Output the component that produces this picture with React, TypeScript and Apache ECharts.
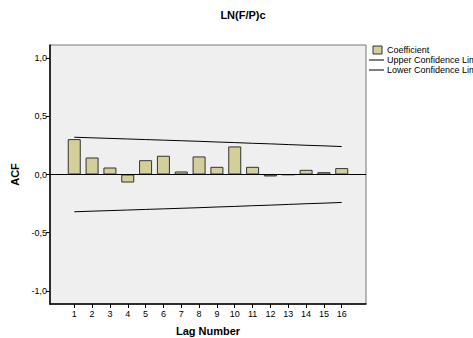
import React, { useEffect, useRef } from "react";
import * as echarts from "echarts";

const lags = [1, 2, 3, 4, 5, 6, 7, 8, 9, 10, 11, 12, 13, 14, 15, 16];
const coefficient = [0.304, 0.146, 0.06, -0.069, 0.123, 0.161, 0.026, 0.155, 0.066, 0.241, 0.066, -0.017, -0.003, 0.04, 0.02, 0.055];
const upperLimit = [0.32, 0.315, 0.31, 0.305, 0.3, 0.295, 0.29, 0.285, 0.279, 0.274, 0.268, 0.263, 0.257, 0.251, 0.246, 0.24];
const lowerLimit = [-0.32, -0.315, -0.31, -0.305, -0.3, -0.295, -0.29, -0.285, -0.279, -0.274, -0.268, -0.263, -0.257, -0.251, -0.246, -0.24];
const yTicks = [-1, -0.5, 0, 0.5, 1];

const FONT = "Liberation Sans, Arial, sans-serif";

export default function App() {
  const ref = useRef<HTMLDivElement>(null);
  useEffect(() => {
    if (!ref.current) return;
    const chart = echarts.init(ref.current, null, { renderer: "svg" });
    chart.setOption({
      animation: false,
      backgroundColor: "#ffffff",
      textStyle: { fontFamily: FONT },
      title: {
        text: "LN(F/P)c",
        left: 238,
        top: 4,
        textAlign: "center",
        textStyle: { fontSize: 11, fontWeight: "bold", color: "#000", fontFamily: FONT },
      },
      grid: {
        left: 50,
        right: 107,
        top: 45,
        bottom: 34,
        outerBoundsMode: "none",
        containLabel: false,
        show: true,
        backgroundColor: "#efefef",
        borderColor: "#777",
        borderWidth: 1,
      },
      xAxis: {
        type: "value",
        min: -0.36,
        max: 17.36,
        name: "Lag Number",
        nameLocation: "middle",
        nameGap: 21,
        nameTextStyle: { fontSize: 11, fontWeight: "bold", color: "#000", fontFamily: FONT },
        axisLine: { show: true, onZero: false, lineStyle: { color: "#000", width: 1.5 } },
        axisTick: { show: true, customValues: lags, length: 4, lineStyle: { color: "#000" } },
        axisLabel: {
          customValues: lags,
          fontSize: 9,
          color: "#000",
          margin: 5,
          formatter: (v: number) => String(v),
        },
        splitLine: { show: false },
      },
      yAxis: {
        type: "value",
        min: -1.112,
        max: 1.112,
        name: "ACF",
        nameLocation: "middle",
        nameGap: 20,
        nameRotate: 90,
        nameTextStyle: { fontSize: 11, fontWeight: "bold", color: "#000", fontFamily: FONT },
        axisLine: { show: true, onZero: false, lineStyle: { color: "#000", width: 1.5 } },
        axisTick: { show: true, customValues: yTicks, length: 4, lineStyle: { color: "#000" } },
        axisLabel: {
          customValues: yTicks,
          fontSize: 9,
          color: "#000",
          margin: 3,
          formatter: (v: number) => v.toFixed(1).replace(".", ","),
        },
        splitLine: { show: false },
      },
      series: [
        {
          name: "Coefficient",
          type: "bar",
          barWidth: 13,
          data: lags.map((l, i) => [l, coefficient[i]]),
          itemStyle: { color: "#d4cf98", borderColor: "#333", borderWidth: 1 },
          markLine: {
            silent: true,
            symbol: "none",
            label: { show: false },
            lineStyle: { color: "#000", width: 1, type: "solid" },
            data: [{ yAxis: 0 }],
          },
        },
        {
          name: "Upper Confidence Limit",
          type: "line",
          symbol: "none",
          data: lags.map((l, i) => [l, upperLimit[i]]),
          lineStyle: { color: "#000", width: 1 },
        },
        {
          name: "Lower Confidence Limit",
          type: "line",
          symbol: "none",
          data: lags.map((l, i) => [l, lowerLimit[i]]),
          lineStyle: { color: "#000", width: 1 },
        },
      ],
      graphic: [
        { type: "rect", shape: { x: 373, y: 46, width: 9, height: 8 }, style: { fill: "#d4cf98", stroke: "#333", lineWidth: 1 } },
        { type: "text", x: 387, y: 50, style: { text: "Coefficient", fontSize: 9, fill: "#000", fontFamily: FONT, verticalAlign: "middle" } },
        { type: "line", shape: { x1: 369, y1: 60, x2: 384, y2: 60 }, style: { stroke: "#000", lineWidth: 1 } },
        { type: "text", x: 387, y: 60, style: { text: "Upper Confidence Limit", fontSize: 9, fill: "#000", fontFamily: FONT, verticalAlign: "middle" } },
        { type: "line", shape: { x1: 369, y1: 70, x2: 384, y2: 70 }, style: { stroke: "#000", lineWidth: 1 } },
        { type: "text", x: 387, y: 70, style: { text: "Lower Confidence Limit", fontSize: 9, fill: "#000", fontFamily: FONT, verticalAlign: "middle" } },
      ],
    });
    return () => chart.dispose();
  }, []);
  return <div ref={ref} style={{ position: "fixed", left: 0, top: 0, width: 473, height: 338 }} />;
}
